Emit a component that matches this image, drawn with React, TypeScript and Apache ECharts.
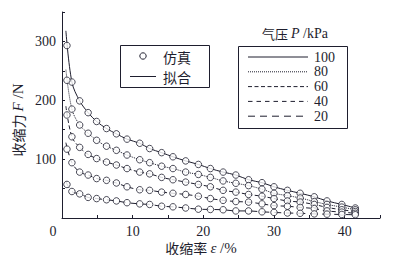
import React, { useEffect, useRef } from "react";
import * as echarts from "echarts";

const strain = [0.7, 1.4, 2.5, 3.7, 4.9, 6.3, 7.7, 9.2, 11, 12.4, 14.1, 15.7, 17.5, 19.3, 21, 22.8, 24.6, 26.4, 28.3, 30, 31.9, 33.7, 35.7, 37.5, 39.6, 41.5];

const sim100 = [293, 231, 199, 179, 164, 152, 143, 134, 127, 118, 111, 104, 97, 91, 84, 78, 73, 65, 60, 53, 47, 42, 36, 29, 23, 17];
const sim80 = [234, 185, 158, 144, 132, 122, 115, 107, 99, 94, 88, 84, 78, 74, 69, 63, 59, 55, 49, 42, 38, 34, 28, 23, 18.5, 14];
const sim60 = [175, 138, 120, 108, 101, 95, 90, 84, 78, 75, 69, 65, 61, 57, 53, 47, 44, 40, 37, 33, 29, 27, 23, 18, 14, 11];
const sim40 = [117, 94, 78, 73, 67, 64, 59.5, 53, 48, 47, 44, 42, 40, 37, 33, 30, 28, 27, 24, 21, 20, 18, 16, 12, 10, 8];
const sim20 = [57, 45, 41, 35, 33, 31, 29, 26, 24, 23, 20, 19, 17, 15, 14.5, 14, 12, 12, 10.5, 9.5, 8.5, 8, 7, 6.5, 6, 5.5];

// fitted curve start points
const fitStartX = 0.55;
const fitStart = [318, 252, 190, 128, 62];

const pressures = ["100", "80", "60", "40", "20"];
const simSets = [sim100, sim80, sim60, sim40, sim20];
const dashes: (number[] | "solid")[] = ["solid", [1, 1], [4, 2.5], [4.5, 4], [7, 5]];

const xTicks = [0, 10, 20, 30, 40];
const yTicks = [100, 200, 300];

const serif = "'Liberation Serif', 'DejaVu Serif', serif";
const cjk = "'Noto Sans CJK SC', sans-serif";
const ink = "#1e1e2e";

export default function App() {
  const ref = useRef<HTMLDivElement>(null);
  useEffect(() => {
    if (!ref.current) return;
    const chart = echarts.init(ref.current, undefined, { renderer: "svg" });

    const lineSeries = simSets.map((s, i) => ({
      type: "line",
      data: [[fitStartX, fitStart[i]], ...strain.slice(1).map((x, j) => [x, s[j + 1]])],
      smooth: 0.35,
      symbol: "none",
      lineStyle: { color: ink, width: 1, type: dashes[i] },
      z: 2,
    }));
    const scatterSeries = simSets.map((s) => ({
      type: "scatter",
      data: strain.map((x, j) => [x, s[j]]),
      symbol: "circle",
      symbolSize: 6.5,
      itemStyle: { color: "#fff", borderColor: ink, borderWidth: 1 },
      z: 3,
    }));

    const legendItems: any[] = [];
    pressures.forEach((p, i) => {
      const y = 57 + i * 14.8;
      legendItems.push({
        type: "line",
        shape: { x1: 248, y1: y, x2: 308, y2: y },
        style: { stroke: ink, lineWidth: 1, lineDash: dashes[i] === "solid" ? null : dashes[i] },
      });
      legendItems.push({
        type: "text",
        x: 314,
        y,
        style: { text: p, fontFamily: serif, fontSize: 14, fill: ink, verticalAlign: "middle", align: "left" },
      });
    });

    chart.setOption({
      animation: false,
      grid: { left: 62, right: 20, top: 12, bottom: 45 },
      xAxis: {
        type: "value",
        min: 0,
        max: 45,
        interval: 5,
        axisLine: { lineStyle: { color: ink, width: 1 } },
        axisTick: { inside: true, length: 3, lineStyle: { color: ink } },
        splitLine: { show: false },
        axisLabel: {
          color: ink,
          fontFamily: serif,
          fontSize: 14,
          margin: 6,
          formatter: (v: number) => (xTicks.includes(v) && v !== 0 ? String(v) : ""),
        },
      },
      yAxis: {
        type: "value",
        min: 0,
        max: 350,
        interval: 50,
        axisLine: { show: true, lineStyle: { color: ink, width: 1 } },
        axisTick: { show: true, inside: true, length: 3, lineStyle: { color: ink } },
        splitLine: { show: false },
        axisLabel: {
          color: ink,
          fontFamily: serif,
          fontSize: 14,
          margin: 6,
          formatter: (v: number) => (yTicks.includes(v) ? String(v) : ""),
        },
      },
      graphic: [
        { type: "text", x: 53, y: 231, style: { text: "0", fontFamily: serif, fontSize: 14, fill: ink, align: "center", verticalAlign: "middle" } },
        {
          type: "text",
          x: 201,
          y: 247.5,
          style: {
            text: "{a|收缩率 }{i|ε}{b| /%}",
            align: "center",
            verticalAlign: "middle",
            rich: {
              a: { fontFamily: cjk, fontSize: 14, fill: ink },
              i: { fontFamily: serif, fontStyle: "italic", fontSize: 15, fill: ink },
              b: { fontFamily: serif, fontSize: 15, fill: ink },
            },
          },
        },
        {
          type: "text",
          x: 18,
          y: 120,
          rotation: Math.PI / 2,
          style: {
            text: "{a|收缩力 }{i|F}{b| /N}",
            align: "center",
            verticalAlign: "middle",
            rich: {
              a: { fontFamily: cjk, fontSize: 14, fill: ink },
              i: { fontFamily: serif, fontStyle: "italic", fontSize: 15, fill: ink },
              b: { fontFamily: serif, fontSize: 15, fill: ink },
            },
          },
        },
        // legend 1
        { type: "rect", shape: { x: 120.5, y: 45.5, width: 89, height: 42 }, style: { fill: "#fff", stroke: ink, lineWidth: 1 }, z: 10 },
        { type: "circle", shape: { cx: 143, cy: 56, r: 3.2 }, style: { fill: "#fff", stroke: ink, lineWidth: 1 }, z: 11 },
        { type: "text", x: 163, y: 57, z: 11, style: { text: "仿真", fontFamily: cjk, fontSize: 14, fill: ink, verticalAlign: "middle" } },
        { type: "line", shape: { x1: 130, y1: 76.5, x2: 156, y2: 76.5 }, z: 11, style: { stroke: ink, lineWidth: 1 } },
        { type: "text", x: 163, y: 77, z: 11, style: { text: "拟合", fontFamily: cjk, fontSize: 14, fill: ink, verticalAlign: "middle" } },
        // legend 2
        {
          type: "text",
          x: 295,
          y: 33,
          style: {
            text: "{a|气压 }{i|P}{b| /kPa}",
            align: "center",
            verticalAlign: "middle",
            rich: {
              a: { fontFamily: cjk, fontSize: 13, fill: ink },
              i: { fontFamily: serif, fontStyle: "italic", fontSize: 14, fill: ink },
              b: { fontFamily: serif, fontSize: 14, fill: ink },
            },
          },
        },
        { type: "rect", shape: { x: 238.5, y: 46.5, width: 109, height: 82 }, style: { fill: "#fff", stroke: ink, lineWidth: 1 }, z: 10 },
        { type: "group", z: 11, children: legendItems.map((c) => ({ ...c, z: 11 })) },
      ],
      series: [...lineSeries, ...scatterSeries],
    });
    return () => chart.dispose();
  }, []);
  return <div ref={ref} style={{ width: 400, height: 263, margin: -8 }} />;
}
